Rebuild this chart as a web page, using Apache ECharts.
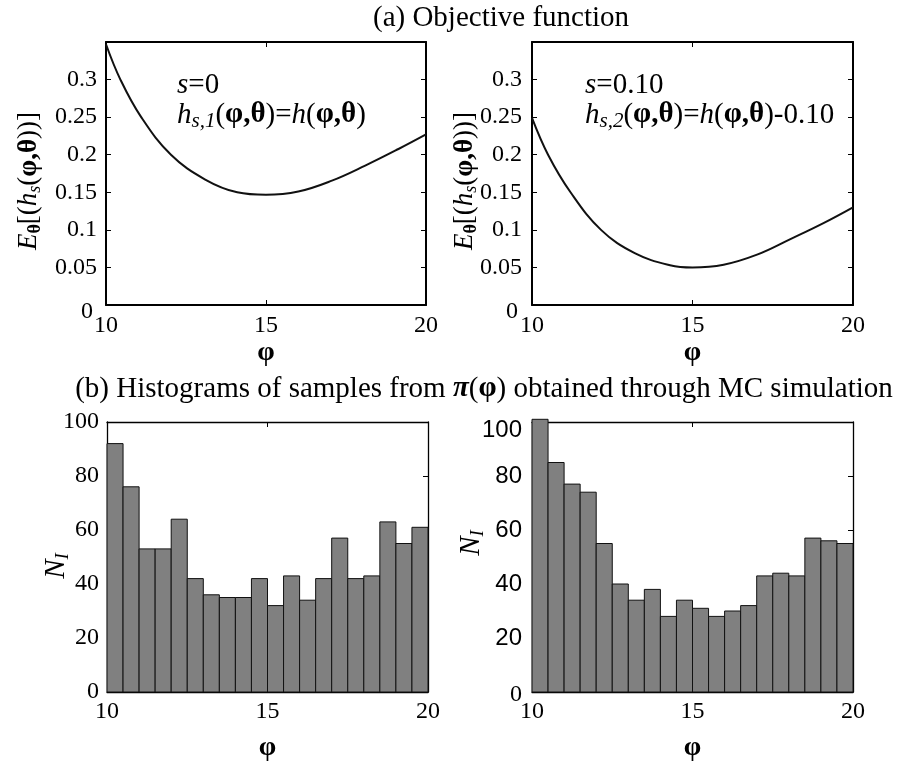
<!DOCTYPE html>
<html><head><meta charset="utf-8">
<script src="https://cdn.jsdelivr.net/npm/echarts@6/dist/echarts.min.js"></script>
<style>html,body{margin:0;padding:0;background:#fff}#c{width:901px;height:763px}</style>
</head><body><div id="c"></div>
<script>
const SERIF = '"Liberation Serif","Times New Roman",serif';
const SANS = '"Liberation Sans",Arial,sans-serif';

// (a) objective function curves
const phiS0  = [10, 10.45, 11.1, 12.03, 13.1, 14.1, 15, 16.01, 17.06, 18.1, 19.14, 20];
const objS0  = [0.347, 0.300, 0.250, 0.200, 0.167, 0.150, 0.1467, 0.151, 0.1655, 0.1855, 0.2076, 0.227];
const phiS10 = [10, 10.5, 11.2, 12.15, 13.2, 14.3, 15, 15.97, 17.01, 18.05, 19.08, 20];
const objS10 = [0.249, 0.200, 0.150, 0.100, 0.069, 0.053, 0.050, 0.0536, 0.067, 0.0877, 0.109, 0.130];

// (b) histograms
const binLo = [10, 10.5, 11, 11.5, 12, 12.5, 13, 13.5, 14, 14.5, 15, 15.5, 16, 16.5, 17, 17.5, 18, 18.5, 19, 19.5];
const binHi = [10.5, 11, 11.5, 12, 12.5, 13, 13.5, 14, 14.5, 15, 15.5, 16, 16.5, 17, 17.5, 18, 18.5, 19, 19.5, 20];
const countsS0  = [92, 76, 53, 53, 64, 42, 36, 35, 35, 42, 32, 43, 34, 42, 57, 42, 43, 63, 55, 61];
const countsS10 = [101, 85, 77, 74, 55, 40, 34, 38, 28, 34, 31, 28, 30, 32, 43, 44, 43, 57, 56, 55];

const xTicks = {min: 10, max: 20, interval: 5};
const yTopTicks = {min: 0, max: 0.35, interval: 0.05};
const yBotTicks = {min: 0, max: 100, interval: 20};

const chart = echarts.init(document.getElementById('c'), null, {renderer: 'canvas'});

function xAx(grid, pos, lw, label, nameGap) {
  const a = {
    type: 'value', gridIndex: grid, position: pos,
    min: xTicks.min, max: xTicks.max, interval: xTicks.interval,
    axisLine: {show: true, onZero: false, lineStyle: {color: '#000', width: lw}},
    axisTick: {show: true, inside: true, length: 5, lineStyle: {color: '#000', width: 1}},
    splitLine: {show: false},
    axisLabel: {show: false}
  };
  if (label) {
    a.axisLabel = {show: true, showMinLabel: true, showMaxLabel: true, margin: label.margin,
      fontFamily: SERIF, fontSize: 24, color: '#000'};
    a.name = 'φ'; a.nameLocation = 'middle'; a.nameGap = nameGap;
    a.nameTextStyle = {fontFamily: SERIF, fontWeight: 'bold', fontSize: 28, color: '#000'};
  }
  return a;
}
function yAx(grid, pos, lw, ticks, label) {
  const a = {
    type: 'value', gridIndex: grid, position: pos,
    min: ticks.min, max: ticks.max, interval: ticks.interval,
    axisLine: {show: true, onZero: false, lineStyle: {color: '#000', width: lw}},
    axisTick: {show: true, inside: true, length: 5, lineStyle: {color: '#000', width: 1}},
    splitLine: {show: false},
    axisLabel: {show: false}
  };
  if (label) a.axisLabel = Object.assign({show: true, showMinLabel: true, showMaxLabel: true, color: '#000'}, label);
  return a;
}

const topYLabel = {
  margin: 9, fontFamily: SERIF, fontSize: 24,
  formatter: function (v) {
    if (v > 0.34) return '';
    if (v === 0) return '{z|0}';
    return String(+v.toFixed(2));
  },
  rich: {z: {fontFamily: SERIF, fontSize: 24, color: '#000', padding: [13, 4, 0, 0]}}
};
const botLeftYLabel = {margin: 8, fontFamily: SERIF, fontSize: 24};
const botRightYLabel = {
  margin: 10, fontFamily: SANS, fontSize: 24,
  formatter: function (v) {
    if (v === 0) return '{z|0}';
    if (v === 100) return '{t|100}';
    return String(v);
  },
  rich: {
    z: {fontFamily: SERIF, fontSize: 24, color: '#000', padding: [6, 0, 0, 0]},
    t: {fontFamily: SANS, fontSize: 24, color: '#000', padding: [16, 0, 0, 0]}
  }
};

function zip(a, b) { return a.map((v, i) => [v, b[i]]); }
function hist(lo, hi, c) { return lo.map((v, i) => [v, hi[i], c[i]]); }

function renderBar(params, api) {
  const p0 = api.coord([api.value(0), 0]);
  const p1 = api.coord([api.value(1), api.value(2)]);
  return {
    type: 'rect',
    shape: {x: p0[0], y: p1[1], width: p1[0] - p0[0], height: p0[1] - p1[1]},
    style: {fill: '#808080', stroke: '#111', lineWidth: 1}
  };
}

const R = {
  n: {fontFamily: SERIF, fontSize: 29, color: '#000', lineHeight: 34},
  i: {fontFamily: SERIF, fontSize: 29, fontStyle: 'italic', color: '#000', lineHeight: 34},
  b: {fontFamily: SERIF, fontSize: 29, fontWeight: 'bold', color: '#000', lineHeight: 34},
  sub: {fontFamily: SERIF, fontSize: 21, fontStyle: 'italic', color: '#000', lineHeight: 21, padding: [13, 0, 0, 0]}
};
const RY = {
  n: {fontFamily: SERIF, fontSize: 27, color: '#000', lineHeight: 32},
  i: {fontFamily: SERIF, fontSize: 27, fontStyle: 'italic', color: '#000', lineHeight: 32},
  b: {fontFamily: SERIF, fontSize: 27, fontWeight: 'bold', color: '#000', lineHeight: 32},
  sb: {fontFamily: SERIF, fontSize: 18, fontWeight: 'bold', color: '#000', lineHeight: 18, padding: [12, 0, 0, 0]},
  si: {fontFamily: SERIF, fontSize: 18, fontStyle: 'italic', color: '#000', lineHeight: 18, padding: [12, 0, 0, 0]}
};
const RN = {
  i: {fontFamily: SERIF, fontSize: 29, fontStyle: 'italic', color: '#000', lineHeight: 34},
  si: {fontFamily: SERIF, fontSize: 19, fontStyle: 'italic', color: '#000', lineHeight: 19, padding: [13, 0, 0, 0]}
};
const RT = {
  n: {fontFamily: SERIF, fontSize: 29, color: '#000', lineHeight: 34},
  ib: {fontFamily: SERIF, fontSize: 29, fontStyle: 'italic', fontWeight: 'bold', color: '#000', lineHeight: 34},
  b: {fontFamily: SERIF, fontSize: 29, fontWeight: 'bold', color: '#000', lineHeight: 34}
};

function txt(x, y, text, rich, extra) {
  return Object.assign({type: 'text', x: x, y: y, silent: true,
    style: Object.assign({text: text, rich: rich, fill: '#000'}, extra || {})});
}
const yNameE = '{i|E}{sb|θ}{n|[(}{i|h}{si|s}{n|(}{b|φ,θ}{n|))]}';
const yNameN = '{i|N}{si|I}';

const option = {
  animation: false,
  backgroundColor: '#fff',
  grid: [
    {left: 106, top: 42, width: 320, height: 263},
    {left: 532, top: 42, width: 321, height: 263},
    {left: 107, top: 422, width: 321, height: 270},
    {left: 532, top: 422, width: 321, height: 271}
  ],
  xAxis: [
    xAx(0, 'bottom', 2, {margin: 9}, 32), xAx(0, 'top', 2),
    xAx(1, 'bottom', 2, {margin: 9}, 32), xAx(1, 'top', 2),
    xAx(2, 'bottom', 1.3, {margin: 8}, 42), xAx(2, 'top', 1.3),
    xAx(3, 'bottom', 1.3, {margin: 8}, 42), xAx(3, 'top', 1.3)
  ],
  yAxis: [
    yAx(0, 'left', 2, yTopTicks, topYLabel), yAx(0, 'right', 2, yTopTicks),
    yAx(1, 'left', 2, yTopTicks, Object.assign({}, topYLabel, {margin: 10})), yAx(1, 'right', 2, yTopTicks),
    yAx(2, 'left', 1.3, yBotTicks, botLeftYLabel), yAx(2, 'right', 1.3, yBotTicks),
    yAx(3, 'left', 1.3, yBotTicks, botRightYLabel), yAx(3, 'right', 1.3, yBotTicks)
  ],
  series: [
    {type: 'line', xAxisIndex: 0, yAxisIndex: 0, data: zip(phiS0, objS0), showSymbol: false, symbol: 'none',
      smooth: 0.4, lineStyle: {color: '#111', width: 2}, z: 5},
    {type: 'line', xAxisIndex: 2, yAxisIndex: 2, data: zip(phiS10, objS10), showSymbol: false, symbol: 'none',
      smooth: 0.4, lineStyle: {color: '#111', width: 2}, z: 5},
    {type: 'custom', xAxisIndex: 4, yAxisIndex: 4, data: hist(binLo, binHi, countsS0),
      encode: {x: [0, 1], y: 2}, renderItem: renderBar, clip: false},
    {type: 'custom', xAxisIndex: 6, yAxisIndex: 6, data: hist(binLo, binHi, countsS10),
      encode: {x: [0, 1], y: 2}, renderItem: renderBar, clip: false}
  ],
  graphic: [
    txt(501, 18, '{n|(a) Objective function}', RT, {align: 'center', verticalAlign: 'middle'}),
    txt(484, 389, '{n|(b) Histograms of samples from }{ib|π}{n|(}{b|φ}{n|) obtained through MC simulation}', RT,
      {align: 'center', verticalAlign: 'middle'}),
    txt(177, 68, '{i|s}{n|=0}', R, {align: 'left', verticalAlign: 'top'}),
    txt(177, 98, '{i|h}{sub|s,1}{n|(}{b|φ,θ}{n|)=}{i|h}{n|(}{b|φ,θ}{n|)}', R, {align: 'left', verticalAlign: 'top'}),
    txt(585, 68, '{i|s}{n|=0.10}', R, {align: 'left', verticalAlign: 'top'}),
    txt(585, 98, '{i|h}{sub|s,2}{n|(}{b|φ,θ}{n|)=}{i|h}{n|(}{b|φ,θ}{n|)-0.10}', R, {align: 'left', verticalAlign: 'top'}),
    Object.assign(txt(29, 181, yNameE, RY, {align: 'center', verticalAlign: 'middle'}), {rotation: Math.PI / 2}),
    Object.assign(txt(465, 181, yNameE, RY, {align: 'center', verticalAlign: 'middle'}), {rotation: Math.PI / 2}),
    Object.assign(txt(56, 566, yNameN, RN, {align: 'center', verticalAlign: 'middle'}), {rotation: Math.PI / 2}),
    Object.assign(txt(471, 543, yNameN, RN, {align: 'center', verticalAlign: 'middle'}), {rotation: Math.PI / 2})
  ]
};
chart.setOption(option);
</script>
</body></html>
